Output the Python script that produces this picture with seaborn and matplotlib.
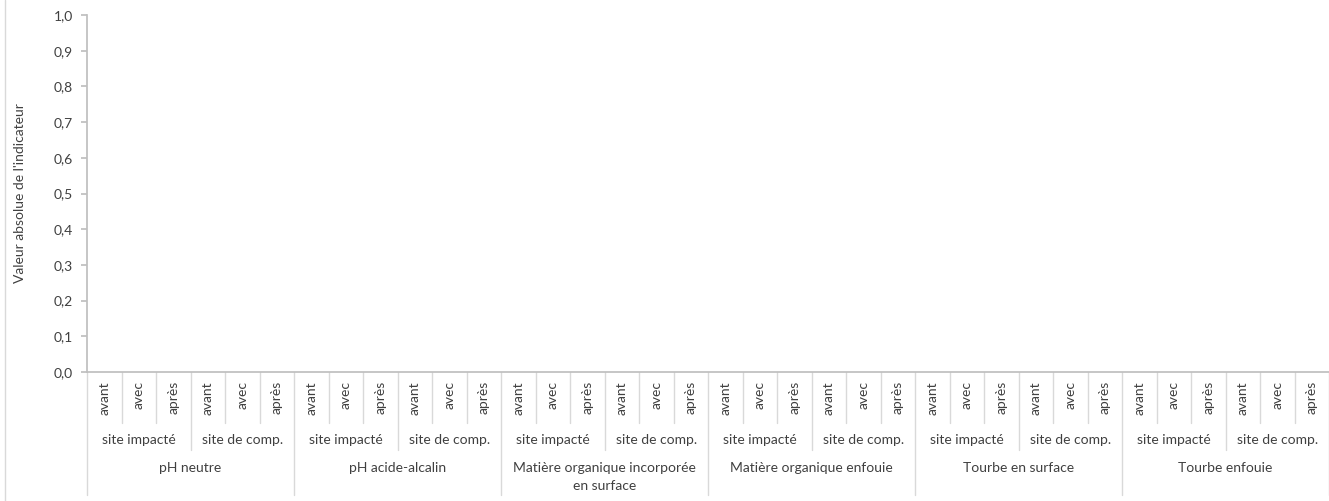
import numpy as np
import pandas as pd
import seaborn as sns
import matplotlib.pyplot as plt
from matplotlib.lines import Line2D

sns.set_theme(style='white')
plt.rcParams['font.family'] = ['Lato', 'DejaVu Sans']

# ------------------------------------------- data ---------------------------------------------
indicateurs = ['pH neutre', 'pH acide-alcalin', 'Matière organique incorporée\nen surface',
               'Matière organique enfouie', 'Tourbe en surface', 'Tourbe enfouie']
sites = ['site impacté', 'site de comp.']
phases = ['avant', 'avec', 'après']
# chart is empty: no value plotted
valeurs = [0, 0, 0, 0, 0, 0, 0, 0, 0, 0, 0, 0,
           0, 0, 0, 0, 0, 0, 0, 0, 0, 0, 0, 0,
           0, 0, 0, 0, 0, 0, 0, 0, 0, 0, 0, 0]

rows = []
for ind in indicateurs:
    for s in sites:
        for p in phases:
            rows.append((ind, s, p))
df = pd.DataFrame(rows, columns=['indicateur', 'site', 'phase'])
df['cat'] = [str(i) for i in range(len(df))]
df['valeur'] = valeurs

txt = '#404040'
grey = '#bfbfbf'
fs = 10

# ------------------------------------------- figure ---------------------------------------------
fig = plt.figure(figsize=(13.29, 5.01), dpi=100)
ax = fig.add_axes([87 / 1329, 129 / 501, 1 - 87 / 1329, 357 / 501])
sns.barplot(data=df, x='cat', y='valeur', color='#4f81bd', ax=ax, errorbar=None)

ax.set_ylim(0, 1)
ax.set_xlim(-0.5, len(df) - 0.5)
ax.set_yticks(np.arange(0, 1.01, 0.1))
ax.set_yticklabels([f'{t:.1f}'.replace('.', ',') for t in np.arange(0, 1.01, 0.1)],
                   fontsize=fs, color=txt)
ax.tick_params(axis='y', length=4, color=grey, left=True, pad=6)
ax.set_xticks([])
ax.set_xlabel('')
ax.set_ylabel("Valeur absolue de l'indicateur", fontsize=fs, color=txt, labelpad=20)
for side in ['top', 'right']:
    ax.spines[side].set_visible(False)
ax.spines['left'].set_color(grey)
ax.spines['bottom'].set_color(grey)

# multi-level category axis
tr = ax.get_xaxis_transform()
h = 357.0
n = len(df)
for i in range(n + 1):
    x = i - 0.5
    if i % 6 == 0:
        depth = 123
    elif i % 3 == 0:
        depth = 78
    else:
        depth = 51
    ax.plot([x, x], [0, -depth / h], transform=tr, clip_on=False, color='#d9d9d9', lw=1)

for i, p in enumerate(df['phase']):
    ax.text(i, -9 / h, p, transform=tr, rotation=90, ha='center', va='top',
            fontsize=fs, color=txt)
for k in range(len(indicateurs) * len(sites)):
    ax.text(3 * k + 1, -68 / h, sites[k % 2], transform=tr, ha='center', va='center',
            fontsize=fs, color=txt)
for k, ind in enumerate(indicateurs):
    ax.text(6 * k + 2.5, -90 / h, ind, transform=tr, ha='center', va='top',
            fontsize=fs, color=txt, linespacing=1.55)

fig.add_artist(Line2D([5 / 1329, 5 / 1329], [0, 1], transform=fig.transFigure,
                      color='#d9d9d9', lw=1))

fig.savefig('out.png', dpi=100)
